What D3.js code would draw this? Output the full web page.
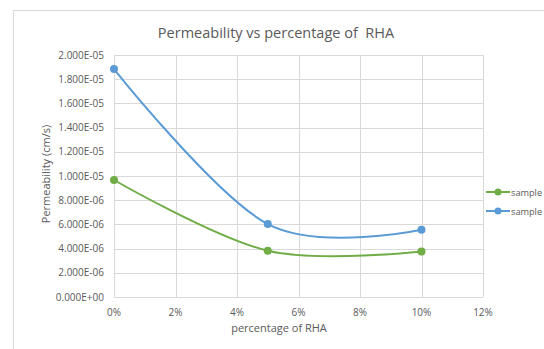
<!DOCTYPE html>
<html>
<head>
<meta charset="utf-8">
<script src="https://cdn.jsdelivr.net/npm/d3@7"></script>
<style>
  body { margin: 0; background: #fff; }
  text { font-family: "Open Sans", "Noto Sans", sans-serif; white-space: pre; }
</style>
</head>
<body>
<div id="chart"></div>
<script>
// data
const percents = [0, 0.05, 0.10];
const sampleGreen = [9.67e-6, 3.83e-6, 3.76e-6];
const sampleBlue = [1.884e-5, 6.03e-6, 5.55e-6];
const xTicks = [0, 0.02, 0.04, 0.06, 0.08, 0.10, 0.12];
const yTicks = [0, 2e-6, 4e-6, 6e-6, 8e-6, 1e-5, 1.2e-5, 1.4e-5, 1.6e-5, 1.8e-5, 2e-5];
const seriesNames = ["sample", "sample"];
const seriesColors = ["#70ad47", "#5b9bd5"];

const W = 544, H = 349;
const svg = d3.select("#chart").append("svg")
  .attr("width", W).attr("height", H);

// chart area border
svg.append("rect")
  .attr("x", 13.5).attr("y", 10.5)
  .attr("width", 560).attr("height", 360)
  .attr("fill", "#fff").attr("stroke", "#d9d9d9");

const x = d3.scaleLinear().domain([0, 0.12]).range([114, 483]);
const y = d3.scaleLinear().domain([0, 2e-5]).range([297, 55]);

// grid
svg.append("g")
  .selectAll("line.h")
  .data(yTicks)
  .enter().append("line")
  .attr("x1", x(0)).attr("x2", x(0.12))
  .attr("y1", d => Math.round(y(d)) + 0.5).attr("y2", d => Math.round(y(d)) + 0.5)
  .attr("stroke", "#d9d9d9");
svg.append("g")
  .selectAll("line.v")
  .data(xTicks)
  .enter().append("line")
  .attr("x1", d => Math.round(x(d)) + 0.5).attr("x2", d => Math.round(x(d)) + 0.5)
  .attr("y1", y(2e-5)).attr("y2", y(0))
  .attr("stroke", "#d9d9d9");

// axes labels
const fmtY = d => d.toExponential(3).toUpperCase().replace("E-", "E-0").replace("E+", "E+0");
svg.append("g")
  .selectAll("text")
  .data(yTicks)
  .enter().append("text")
  .attr("x", 104).attr("y", d => y(d) + 3.5)
  .attr("text-anchor", "end")
  .attr("font-size", 10).attr("fill", "#595959")
  .text(fmtY);

svg.append("g")
  .selectAll("text")
  .data(xTicks)
  .enter().append("text")
  .attr("x", d => x(d)).attr("y", 316)
  .attr("text-anchor", "middle")
  .attr("font-size", 10).attr("fill", "#595959")
  .text(d3.format(".0%"));

// titles
svg.append("text")
  .attr("x", 276).attr("y", 38)
  .attr("text-anchor", "middle")
  .attr("font-size", 14.5).attr("fill", "#595959")
  .text("Permeability vs percentage of  RHA");

svg.append("text")
  .attr("x", 279).attr("y", 332)
  .attr("text-anchor", "middle")
  .attr("font-size", 11).attr("fill", "#595959")
  .text("percentage of RHA");

svg.append("text")
  .attr("transform", "translate(50,174) rotate(-90)")
  .attr("text-anchor", "middle")
  .attr("font-size", 11).attr("fill", "#595959")
  .text("Permeability (cm/s)");

// series
const series = [sampleGreen, sampleBlue];
const line = d3.line()
  .x((d, i) => x(percents[i]))
  .y(d => y(d))
  .curve(d3.curveCatmullRom.alpha(0));

series.forEach((vals, s) => {
  svg.append("path")
    .datum(vals)
    .attr("d", line)
    .attr("fill", "none")
    .attr("stroke", seriesColors[s])
    .attr("stroke-width", 2);
  svg.append("g")
    .selectAll("circle")
    .data(vals)
    .enter().append("circle")
    .attr("cx", (d, i) => x(percents[i]))
    .attr("cy", d => y(d))
    .attr("r", 4)
    .attr("fill", seriesColors[s]);
});

// legend
const legend = svg.append("g");
seriesNames.forEach((name, s) => {
  const ly = 192 + s * 19;
  legend.append("line")
    .attr("x1", 486).attr("x2", 510)
    .attr("y1", ly).attr("y2", ly)
    .attr("stroke", seriesColors[s]).attr("stroke-width", 2);
  legend.append("circle")
    .attr("cx", 498).attr("cy", ly).attr("r", 3.5)
    .attr("fill", seriesColors[s]);
  legend.append("text")
    .attr("x", 511).attr("y", ly + 3.5)
    .attr("font-size", 9.2).attr("fill", "#595959")
    .text(name);
});
</script>
</body>
</html>
